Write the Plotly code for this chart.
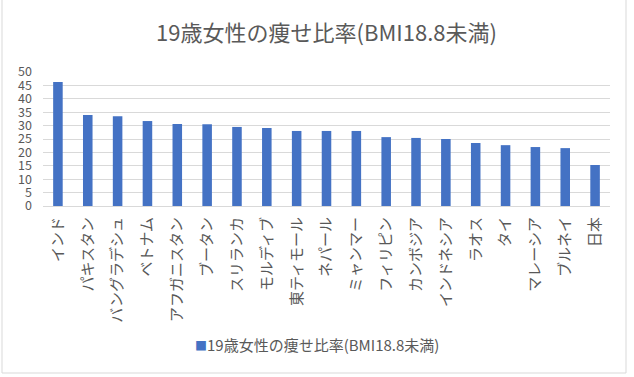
import plotly.graph_objects as go

countries = ["インド", "パキスタン", "バングラデシュ", "ベトナム", "アフガニスタン", "ブータン",
             "スリランカ", "モルディブ", "東ティモール", "ネパール", "ミャンマー", "フィリピン",
             "カンボジア", "インドネシア", "ラオス", "タイ", "マレーシア", "ブルネイ", "日本"]
values = [46.3, 34.0, 33.5, 31.7, 30.6, 30.5, 29.5, 29.1, 28.0, 28.0, 28.0, 25.7,
          25.4, 25.0, 23.5, 22.7, 22.0, 21.6, 15.3]
series_name = "19歳女性の痩せ比率(BMI18.8未満)"
chart_title = "19歳女性の痩せ比率(BMI18.8未満)"
y_ticks = [0, 5, 10, 15, 20, 25, 30, 35, 40, 45, 50]

FONT = "Noto Sans CJK JP, Open Sans, sans-serif"
GRAY = "#595959"
BLUE = "#4472C4"

W, H = 634, 377
L, R, T, B = 43, 24, 72, 171
PW, PH = W - L - R, H - T - B


def px_x(px):
    return (px - L) / PW


def px_y(py):
    return (H - B - py) / PH


fig = go.Figure(go.Bar(x=countries, y=values, name=series_name,
                       marker=dict(color=BLUE, line=dict(width=0)), showlegend=False))

fig.update_layout(
    width=W, height=H,
    margin=dict(l=L, r=R, t=T, b=B, autoexpand=False),
    paper_bgcolor="white", plot_bgcolor="white",
    bargap=0.68,
    showlegend=False,
    title=dict(text=chart_title, x=0.5, xref="paper", xanchor="center",
               y=1 - 33 / H, yanchor="middle", yref="container",
               font=dict(family=FONT, size=22, color=GRAY)),
    font=dict(family=FONT, color=GRAY),
    annotations=[dict(
        text="<span style='font-size:12px;color:%s'>■</span>%s" % (BLUE, series_name),
        xref="paper", yref="paper", x=px_x(317), y=px_y(345),
        xanchor="center", yanchor="middle", showarrow=False,
        font=dict(family=FONT, size=15, color=GRAY))],
    shapes=[dict(type="rect", xref="paper", yref="paper",
                 x0=px_x(2), x1=px_x(626), y0=px_y(373), y1=px_y(-10),
                 line=dict(color="#d9d9d9", width=1), fillcolor="rgba(0,0,0,0)", layer="below")],
)
fig.update_xaxes(tickangle=-90, tickfont=dict(family=FONT, size=15, color=GRAY),
                 showline=True, linecolor="#d9d9d9", ticks="", showgrid=False,
                 automargin=False, ticklabelstandoff=4)
fig.update_yaxes(range=[0, 50], tickvals=y_ticks, showgrid=True, gridcolor="#d9d9d9",
                 zeroline=False, ticks="", tickfont=dict(family=FONT, size=12.5, color=GRAY),
                 ticklabelstandoff=10, automargin=False)

fig.write_html("out.html", config={"displayModeBar": False},
               post_script="document.body.style.margin='0px';document.body.style.overflow='hidden';")
